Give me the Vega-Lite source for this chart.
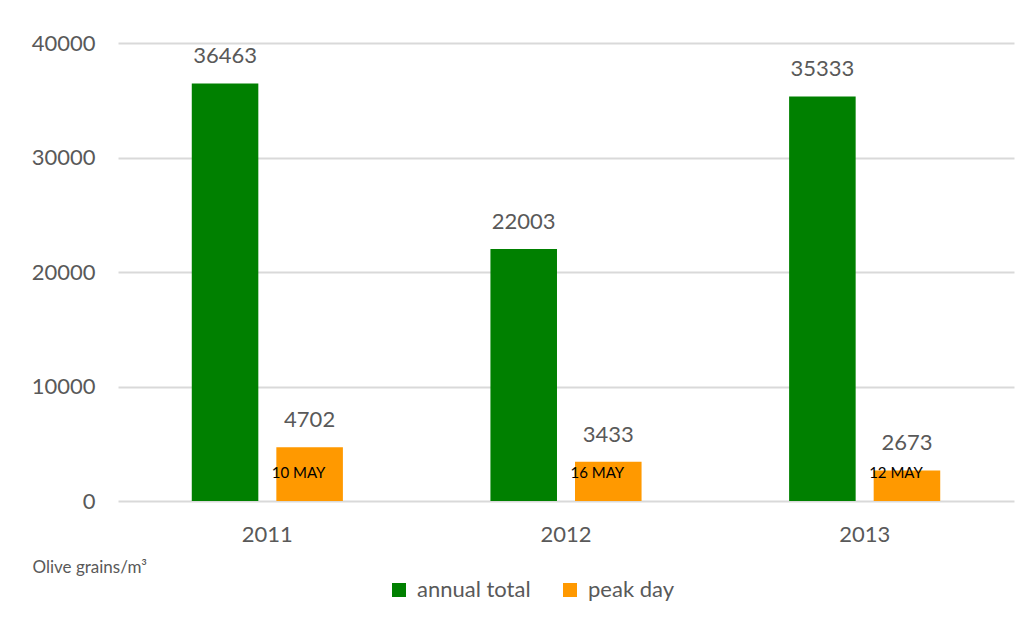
{
  "$schema": "https://vega.github.io/schema/vega-lite/v6.json",
  "width": 896,
  "height": 458,
  "autosize": "none",
  "padding": {"left": 118, "top": 43, "right": 19, "bottom": 126},
  "background": "white",
  "config": {"font": "Lato", "view": {"stroke": null}},
  "data": {
    "values": [
      {"year": "2011", "series": "annual total", "value": 36463, "date": null},
      {"year": "2011", "series": "peak day", "value": 4702, "date": "10 MAY"},
      {"year": "2012", "series": "annual total", "value": 22003, "date": null},
      {"year": "2012", "series": "peak day", "value": 3433, "date": "16 MAY"},
      {"year": "2013", "series": "annual total", "value": 35333, "date": null},
      {"year": "2013", "series": "peak day", "value": 2673, "date": "12 MAY"}
    ]
  },
  "encoding": {
    "x": {
      "field": "year",
      "type": "nominal",
      "scale": {"paddingInner": 0.494, "paddingOuter": 0.247},
      "axis": {
        "title": null,
        "labelAngle": 0,
        "labelFontSize": 22,
        "labelColor": "#595959",
        "labelPadding": 23,
        "ticks": false,
        "domain": false
      }
    },
    "xOffset": {
      "field": "series",
      "type": "nominal",
      "scale": {"paddingInner": 0.213, "paddingOuter": 0}
    }
  },
  "layer": [
    {
      "mark": {"type": "bar"},
      "encoding": {
        "y": {
          "field": "value",
          "type": "quantitative",
          "scale": {"domain": [0, 40000]},
          "axis": {
            "title": "Olive grains/m³",
            "titleAngle": 0,
            "titleAlign": "left",
            "titleBaseline": "middle",
            "titleX": -86,
            "titleY": 524,
            "titleFontSize": 17,
            "titleFontWeight": "normal",
            "titleColor": "#595959",
            "values": [0, 10000, 20000, 30000, 40000],
            "format": "d",
            "labelFontSize": 22,
            "labelColor": "#595959",
            "labelPadding": 23,
            "ticks": false,
            "domain": false,
            "gridColor": "#D9D9D9",
            "gridWidth": 2
          }
        },
        "color": {
          "field": "series",
          "type": "nominal",
          "scale": {"domain": ["annual total", "peak day"], "range": ["#008000", "#FF9900"]},
          "legend": {
            "title": null,
            "orient": "none",
            "direction": "horizontal",
            "legendX": 270,
            "legendY": 536,
            "symbolType": "square",
            "symbolSize": 196,
            "symbolStrokeWidth": 0,
            "labelFontSize": 22,
            "labelColor": "#595959",
            "labelOffset": 7,
            "columnPadding": 28
          }
        }
      }
    },
    {
      "mark": {"type": "text", "baseline": "middle", "dy": -27, "fontSize": 22, "color": "#595959"},
      "encoding": {
        "y": {"field": "value", "type": "quantitative"},
        "text": {"field": "value", "type": "quantitative", "format": "d"}
      }
    },
    {
      "transform": [{"filter": "datum.date != null"}],
      "mark": {"type": "text", "baseline": "middle", "dx": -11, "fontSize": 15, "color": "black"},
      "encoding": {
        "y": {"datum": 2450},
        "text": {"field": "date", "type": "nominal"}
      }
    }
  ]
}
